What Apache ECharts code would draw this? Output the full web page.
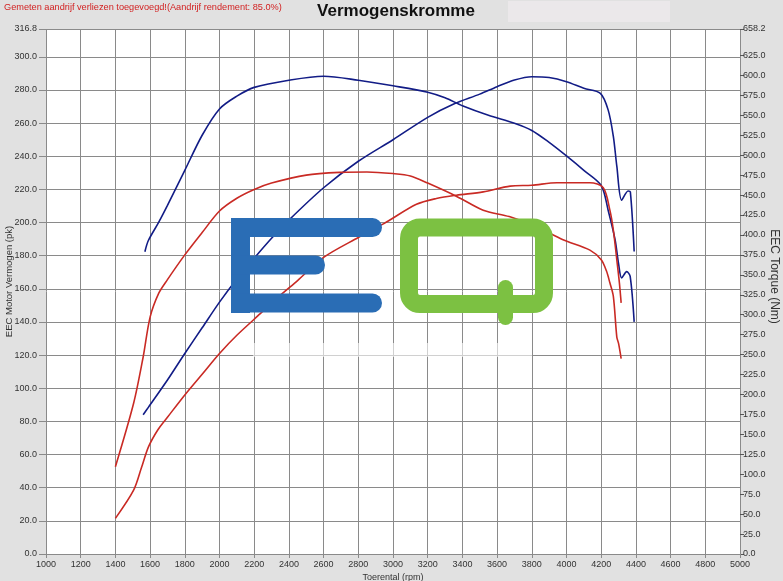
<!DOCTYPE html>
<html>
<head>
<meta charset="utf-8">
<script src="https://cdn.jsdelivr.net/npm/echarts@6/dist/echarts.min.js"></script>
<style>
  html, body { margin: 0; padding: 0; background: #e1e1e1; }
  #chart { width: 783px; height: 581px; }
</style>
</head>
<body>
<div id="chart"></div>
<script>
// ---- Data ----
const titleText = 'Vermogenskromme';
const noteText = 'Gemeten aandrijf verliezen toegevoegd!(Aandrijf rendement: 85.0%)';
const xAxisName = 'Toerental (rpm)';
const leftAxisName = 'EEC Motor Vermogen (pk)';
const rightAxisName = 'EEC Torque (Nm)';

const xMin = 1000, xMax = 5000, xStep = 200;
const powerMax = 316.8, powerStep = 20;
const torqueMax = 658.2, torqueStep = 25;
// right-axis labels shown in the reference (650.0 is hidden behind 658.2)
const torqueTickLabels = [0, 25, 50, 75, 100, 125, 150, 175, 200, 225, 250, 275, 300, 325, 350, 375, 400, 425, 450, 475, 500, 525, 550, 575, 600, 625, 658.2];

// Blue (tuned) torque, Nm
const blueTorqueRpm = [1570, 1590, 1650, 1700, 1800, 1900, 2000, 2100, 2200, 2400, 2600, 2800, 3000, 3200, 3300, 3400, 3550, 3700, 3800, 3900, 4000, 4100, 4200, 4240, 4280, 4300, 4318, 4347, 4367, 4390];
const blueTorqueNm  = [379, 393, 416, 437, 481, 525, 558, 574, 585, 594, 599, 594, 587, 579, 572, 562, 550, 540, 531, 516, 499, 481, 462, 431, 394, 364, 346, 354, 348, 291];

// Blue (tuned) power, pk
const bluePowerRpm = [1560, 1590, 1700, 1800, 1900, 2000, 2100, 2200, 2300, 2400, 2600, 2800, 3000, 3200, 3350, 3500, 3600, 3700, 3800, 3900, 4000, 4100, 4195, 4240, 4270, 4290, 4318, 4355, 4368, 4390];
const bluePowerPk  = [84, 88.5, 105, 121, 136.5, 152, 166, 178.5, 190.5, 201.5, 221, 237, 250, 263.5, 271.5, 277.5, 282, 286, 288, 287.5, 285, 281, 278, 268, 252, 234, 213.5, 219, 218.5, 182.5];

// Red (stock) torque, Nm
const redTorqueRpm = [1400, 1505, 1560, 1600, 1650, 1700, 1800, 1900, 2000, 2100, 2200, 2300, 2500, 2700, 2850, 3000, 3100, 3200, 3370, 3520, 3670, 3830, 3980, 4135, 4200, 4230, 4250, 4270, 4290, 4300, 4315];
const redTorqueNm  = [109.5, 189, 247, 297, 327, 344, 375, 403, 430, 446, 457, 465, 475, 478.5, 479, 477, 474, 465, 448, 431, 423, 410, 394, 381, 369, 355, 340, 323, 272, 264, 245];

// Red (stock) power, pk
const redPowerRpm = [1400, 1505, 1550, 1590, 1645, 1700, 1800, 1900, 2000, 2100, 2235, 2350, 2450, 2600, 2800, 2950, 3135, 3250, 3365, 3520, 3675, 3800, 3945, 4135, 4212, 4250, 4270, 4290, 4305, 4315];
const redPowerPk  = [21.5, 38.5, 52, 64.5, 75, 82.5, 96, 108.5, 121, 132, 145, 156, 165, 179, 191, 199.5, 211, 214.5, 216.5, 218.5, 222, 222.5, 224, 224, 221, 207.5, 195.5, 177.5, 163.5, 151.5];

// ---- Chart ----
const zip = (xs, ys) => xs.map((x, i) => [x, ys[i]]);
const FONT = 'Liberation Sans, Arial, sans-serif';
const BLUE = '#121c86';
const RED = '#c92a24';
const GRID = '#8a8a8a';
const TXT = '#333';

function lineSeries(name, data, color, yIdx) {
  return {
    name, type: 'line', data, yAxisIndex: yIdx,
    showSymbol: false, smooth: 0.3,
    lineStyle: { color, width: 1.6 }, itemStyle: { color },
    z: 3, silent: true
  };
}

const chart = echarts.init(document.getElementById('chart'), null, { renderer: 'canvas' });
chart.setOption({
  backgroundColor: '#e1e1e1',
  animation: false,
  textStyle: { fontFamily: FONT },
  grid: {
    left: 46, right: 43, top: 29, bottom: 27,
    containLabel: false, outerBoundsMode: 'none',
    show: true, backgroundColor: '#ffffff', borderWidth: 0
  },
  xAxis: {
    type: 'value', min: xMin, max: xMax, interval: xStep,
    name: xAxisName, nameLocation: 'middle', nameGap: 19, nameMoveOverlap: false,
    nameTextStyle: { fontSize: 9, color: TXT, fontFamily: FONT },
    axisLine: { show: false },
    axisTick: { show: true, length: 4, lineStyle: { color: GRID } },
    axisLabel: { fontSize: 9, color: TXT, margin: 6, fontFamily: FONT, formatter: v => String(v) },
    splitLine: { show: true, lineStyle: { color: GRID, width: 1 } }
  },
  yAxis: [
    {
      type: 'value', min: 0, max: powerMax, interval: powerStep, position: 'left',
      name: leftAxisName, nameLocation: 'middle', nameGap: 32, nameMoveOverlap: false,
      nameTextStyle: { fontSize: 9.5, color: TXT, fontFamily: FONT, padding: [0, 0, 0, 20] },
      axisLine: { show: false },
      axisTick: { show: true, length: 7, lineStyle: { color: GRID } },
      axisLabel: { fontSize: 9, color: TXT, margin: 9, fontFamily: FONT, formatter: v => v.toFixed(1) },
      splitLine: { show: true, lineStyle: { color: GRID, width: 1 } }
    },
    {
      type: 'value', min: 0, max: torqueMax, interval: torqueStep, position: 'right',
      name: rightAxisName, nameLocation: 'middle', nameGap: 28, nameRotate: -90, nameMoveOverlap: false,
      nameTextStyle: { fontSize: 12, color: TXT, fontFamily: FONT, padding: [0, 30, 0, 0] },
      axisLine: { show: false },
      axisTick: { show: true, length: 4, customValues: torqueTickLabels, lineStyle: { color: '#555' } },
      axisLabel: { fontSize: 9, color: TXT, margin: 3, fontFamily: FONT, customValues: torqueTickLabels, formatter: v => Number(v).toFixed(1) },
      splitLine: { show: false }
    }
  ],
  series: [
    lineSeries('Power tuned', zip(bluePowerRpm, bluePowerPk), BLUE, 0),
    lineSeries('Torque tuned', zip(blueTorqueRpm, blueTorqueNm), BLUE, 1),
    lineSeries('Power stock', zip(redPowerRpm, redPowerPk), RED, 0),
    lineSeries('Torque stock', zip(redTorqueRpm, redTorqueNm), RED, 1)
  ],
  graphic: [
    { type: 'rect', z: 1, silent: true, shape: { x: 508, y: 1, width: 162, height: 21 }, style: { fill: '#ebe8ea' } },
    { type: 'text', z: 10, silent: true, style: { x: 396, y: 11, text: titleText, font: 'bold 17px ' + FONT, fill: '#111', align: 'center', verticalAlign: 'middle' } },
    { type: 'text', z: 10, silent: true, style: { x: 4, y: 7, text: noteText, font: '9.2px ' + FONT, fill: '#d21f1f', align: 'left', verticalAlign: 'middle' } },
    // watermark logo "EQ"
    { type: 'rect', z: 20, silent: true, shape: { x: 253, y: 343, width: 279, height: 14 }, style: { fill: 'rgba(255,255,255,0.6)' } },
    { type: 'rect', z: 20, silent: true, shape: { x: 231, y: 218, width: 19, height: 95 }, style: { fill: '#2a6db5' } },
    { type: 'rect', z: 20, silent: true, shape: { x: 231, y: 218, width: 151, height: 19, r: [0, 9.5, 9.5, 0] }, style: { fill: '#2a6db5' } },
    { type: 'rect', z: 20, silent: true, shape: { x: 231, y: 255.5, width: 94, height: 19, r: [0, 9.5, 9.5, 0] }, style: { fill: '#2a6db5' } },
    { type: 'rect', z: 20, silent: true, shape: { x: 231, y: 293.5, width: 151, height: 19, r: [0, 9.5, 9.5, 0] }, style: { fill: '#2a6db5' } },
    { type: 'rect', z: 20, silent: true, shape: { x: 409, y: 227.5, width: 135, height: 76.5, r: 11 }, style: { fill: 'none', stroke: '#7cc142', lineWidth: 18 } },
    { type: 'rect', z: 20, silent: true, shape: { x: 498, y: 280, width: 15, height: 45, r: 7.5 }, style: { fill: '#7cc142' } }
  ]
});
</script>
</body>
</html>
